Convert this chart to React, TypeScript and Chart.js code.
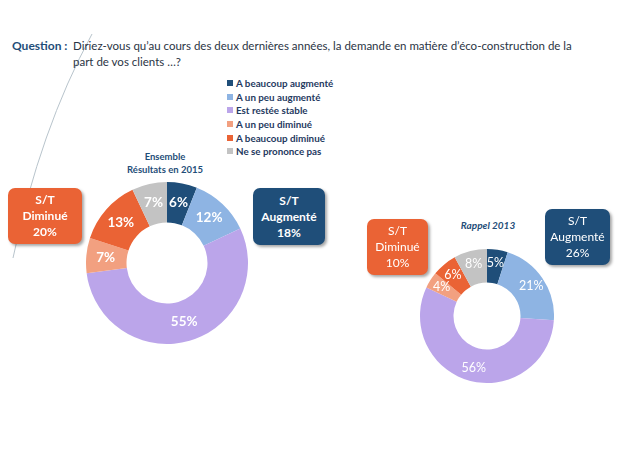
import React, { useEffect, useRef } from "react";
import { Chart, registerables } from "chart.js";

Chart.register(...registerables);

const categories = [
  "A beaucoup augmenté",
  "A un peu augmenté",
  "Est restée stable",
  "A un peu diminué",
  "A beaucoup diminué",
  "Ne se prononce pas",
];
const colors = ["#1F4E79", "#8EB4E3", "#BBA5EA", "#F2A080", "#EA6335", "#C3C3C3"];
const values2015 = [6, 12, 55, 7, 13, 7];
const values2013 = [5, 21, 56, 4, 6, 8];

const FONT = "Lato, 'Open Sans', 'DejaVu Sans', sans-serif";

const labelPlugin = {
  id: "sliceLabels",
  afterDatasetsDraw(chart: any, _args: any, opts: any) {
    const ctx = chart.ctx;
    const meta = chart.getDatasetMeta(0);
    const data = chart.data.datasets[0].data as number[];
    ctx.save();
    ctx.fillStyle = "#ffffff";
    ctx.font = `${opts.weight || "bold"} ${opts.size || 12}px ${FONT}`;
    ctx.textAlign = "center";
    ctx.textBaseline = "middle";
    meta.data.forEach((arc: any, i: number) => {
      const p = arc.getProps(["x", "y", "startAngle", "endAngle", "innerRadius", "outerRadius"], true);
      const a = (p.startAngle + p.endAngle) / 2;
      const r = p.innerRadius + (p.outerRadius - p.innerRadius) * (opts.radial ?? 0.5);
      ctx.fillText(`${data[i]}%`, p.x + Math.cos(a) * r, p.y + Math.sin(a) * r);
    });
    ctx.restore();
  },
};

function Donut({ values, size, left, top, labelSize, labelWeight, radial }: any) {
  const ref = useRef<HTMLCanvasElement>(null);
  useEffect(() => {
    const chart = new Chart(ref.current!, {
      type: "doughnut",
      data: {
        labels: categories,
        datasets: [{ data: values, backgroundColor: colors, borderWidth: 0 }],
      },
      options: {
        responsive: false,
        animation: false,
        cutout: "50%",
        layout: { padding: 0 },
        plugins: {
          legend: { display: false },
          tooltip: { enabled: false },
          sliceLabels: { size: labelSize, weight: labelWeight, radial },
        } as any,
      },
      plugins: [labelPlugin],
    });
    return () => chart.destroy();
  }, []);
  return (
    <canvas
      ref={ref}
      width={size}
      height={size}
      style={{ position: "absolute", left, top, width: size, height: size }}
    />
  );
}

function Box({ left, top, w, h, bg, lines, bold }: any) {
  return (
    <div
      style={{
        position: "absolute",
        left,
        top,
        width: w,
        height: h,
        background: bg,
        borderRadius: 7,
        boxShadow: "2px 2px 3px rgba(0,0,0,0.35)",
        color: "#fff",
        fontFamily: FONT,
        fontWeight: bold ? 700 : 400,
        fontSize: 12,
        lineHeight: "16px",
        textAlign: "center",
        display: "flex",
        flexDirection: "column",
        justifyContent: "center",
      }}
    >
      {lines.map((l: string, i: number) => (
        <div key={i}>{l}</div>
      ))}
    </div>
  );
}

export default function App() {
  return (
    <div
      style={{
        position: "absolute",
        left: 0,
        top: 0,
        width: 620,
        height: 465,
        background: "#fff",
        fontFamily: FONT,
        overflow: "hidden",
      }}
    >
      <svg width={620} height={465} style={{ position: "absolute", left: 0, top: 0 }}>
        <path d="M 92 34 Q 40 130 13 258" stroke="#B8C4CC" strokeWidth={1} fill="none" />
      </svg>
      <div style={{ position: "absolute", left: 12, top: 38, fontSize: 12, color: "#1F4E79", fontWeight: 700 }}>
        Question :
      </div>
      <div
        style={{
          position: "absolute",
          left: 73,
          top: 38,
          width: 540,
          fontSize: 11.5,
          lineHeight: "16px",
          color: "#2A3444",
        }}
      >
        Diriez-vous qu’au cours des deux dernières années, la demande en matière d’éco-construction de la
        <br />
        part de vos clients …?
      </div>
      <div style={{ position: "absolute", left: 227, top: 76 }}>
        {categories.map((c, i) => (
          <div key={c} style={{ display: "flex", alignItems: "center", height: 13.7 }}>
            <div style={{ width: 6, height: 6, background: colors[i], marginRight: 3 }} />
            <span style={{ fontSize: 9.8, fontWeight: 700, color: "#1F3A5F" }}>{c}</span>
          </div>
        ))}
      </div>
      <div
        style={{
          position: "absolute",
          left: 112,
          top: 150,
          width: 106,
          textAlign: "center",
          fontSize: 9.5,
          lineHeight: "13px",
          fontWeight: 700,
          color: "#1F4E79",
        }}
      >
        Ensemble
        <br />
        Résultats en 2015
      </div>
      <div
        style={{
          position: "absolute",
          left: 438,
          top: 219,
          width: 100,
          textAlign: "center",
          fontSize: 10,
          fontWeight: 700,
          fontStyle: "italic",
          color: "#1F4E79",
        }}
      >
        Rappel 2013
      </div>
      <Donut values={values2015} size={162} left={86} top={182} labelSize={13.5} labelWeight="bold" radial={0.52} />
      <Donut values={values2013} size={134} left={420} top={249} labelSize={12.5} labelWeight="normal" radial={0.6} />
      <Box left={8} top={188} w={74} h={56} bg="#EA6335" lines={["S/T", "Diminué", "20%"]} bold />
      <Box left={253} top={188} w={72} h={57} bg="#1F4E79" lines={["S/T", "Augmenté", "18%"]} bold />
      <Box left={367} top={219} w={61} h={56} bg="#EA6335" lines={["S/T", "Diminué", "10%"]} />
      <Box left={545} top={209} w={65} h={56} bg="#1F4E79" lines={["S/T", "Augmenté", "26%"]} />
    </div>
  );
}
